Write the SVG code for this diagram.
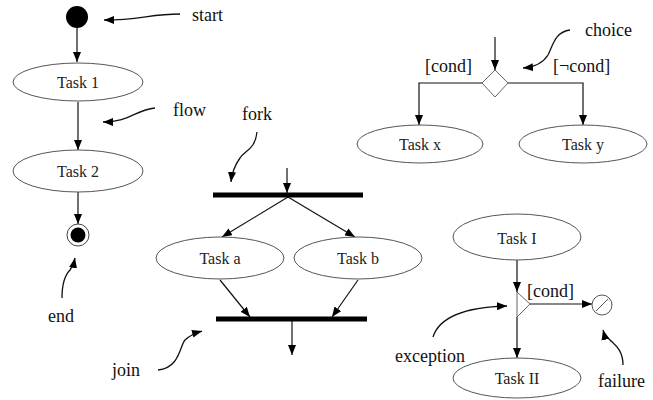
<svg xmlns="http://www.w3.org/2000/svg" width="653" height="400" viewBox="0 0 653 400">
<style>
.node{fill:#fff;stroke:#555;stroke-width:1}
.t{font-family:'Liberation Serif','DejaVu Serif',serif;font-size:16px;fill:#222;text-anchor:middle;dominant-baseline:central}
.lbl{font-family:'Liberation Serif','DejaVu Serif',serif;font-size:18px;fill:#111}
.c{fill:none;stroke:#111;stroke-width:1.2;marker-end:url(#ah)}
.p{fill:none;stroke:#111;stroke-width:1.3;marker-end:url(#ah)}
.bar{stroke:#000;stroke-width:5}
</style>
<defs>
<marker id="ah" markerUnits="userSpaceOnUse" markerWidth="10" markerHeight="8" refX="10" refY="4" orient="auto">
<path d="M0,0 L10,4 L0,8 z" fill="#000"/>
</marker>
</defs>
<rect width="653" height="400" fill="#fff"/>
<g id="connectors">
<path class="c" d="M77,28 L77,62"/>
<path class="c" d="M78,102 L78,150"/>
<path class="c" d="M78,192 L78,224"/>
<path class="c" d="M287,168 L287,193"/>
<path class="c" d="M288,197 L222,237"/>
<path class="c" d="M288,197 L355,237"/>
<path class="c" d="M220,280 L250,317"/>
<path class="c" d="M358,280 L332,317"/>
<path class="c" d="M292,321 L292,355"/>
<path class="c" d="M495,37 L495,70"/>
<path class="c" d="M482,83 L419,83 L419,125"/>
<path class="c" d="M508,83 L583,83 L583,125"/>
<path class="c" d="M517,260 L517,292"/>
<path class="c" d="M517,317 L517,358"/>
<path class="c" d="M530,304 L592,304"/>
</g>
<g id="pointers">
<path class="p" d="M180,14 C150,14 140,20 104,20"/>
<path class="p" d="M155,108 C135,110 130,122 103,122"/>
<path class="p" d="M257,132 C255,150 245,150 240,158 C235,165 232,172 231,182"/>
<path class="p" d="M158,370 C180,368 180,345 185,340 C190,335 195,333 202,331"/>
<path class="p" d="M62,298 C62,285 65,275 70,270 C73,266 74,263 75,258"/>
<path class="p" d="M570,30 C555,32 553,45 548,55 C543,63 535,67 523,68"/>
<path class="p" d="M433,337 C440,315 470,307 507,306"/>
<path class="p" d="M623,365 C623,350 615,345 610,340 C606,336 604,334 603,330"/>
</g>
<g id="start"><circle cx="77" cy="17" r="11" fill="#000"/></g>
<g id="task1"><ellipse class="node" cx="78" cy="82" rx="65" ry="19"/><text class="t" x="78" y="82">Task 1</text></g>
<g id="task2"><ellipse class="node" cx="78" cy="171" rx="65" ry="21"/><text class="t" x="78" y="171">Task 2</text></g>
<g id="end"><circle cx="78" cy="235" r="11" fill="#fff" stroke="#444" stroke-width="1"/><circle cx="78" cy="235" r="7.5" fill="#000"/></g>
<g id="fork"><line class="bar" x1="213" y1="195" x2="363" y2="195"/></g>
<g id="taska"><ellipse class="node" cx="220" cy="258" rx="64" ry="21"/><text class="t" x="220" y="258">Task a</text></g>
<g id="taskb"><ellipse class="node" cx="358" cy="258" rx="64" ry="21"/><text class="t" x="358" y="258">Task b</text></g>
<g id="join"><line class="bar" x1="216" y1="319" x2="367" y2="319"/></g>
<g id="choice"><path d="M495,70 L508,83 L495,97 L482,83 z" fill="#fff" stroke="#666" stroke-width="1"/></g>
<g id="taskx"><ellipse class="node" cx="420" cy="144" rx="63" ry="19"/><text class="t" x="420" y="144">Task x</text></g>
<g id="tasky"><ellipse class="node" cx="583" cy="144" rx="64" ry="19"/><text class="t" x="583" y="144">Task y</text></g>
<g id="taskI"><ellipse class="node" cx="517" cy="237" rx="64" ry="23"/><text class="t" x="517" y="238">Task I</text></g>
<g id="exception"><path d="M517,292 L530,304 L517,317 z" fill="#fff" stroke="#666" stroke-width="1"/></g>
<g id="taskII"><ellipse class="node" cx="517" cy="378" rx="64" ry="20"/><text class="t" x="517" y="378">Task II</text></g>
<g id="failure"><circle cx="602" cy="305" r="10" fill="#fff" stroke="#555" stroke-width="1"/><line x1="596" y1="311" x2="608" y2="299" stroke="#555" stroke-width="1"/></g>
<g id="labels">
<text class="lbl" x="192" y="21">start</text>
<text class="lbl" x="173" y="116">flow</text>
<text class="lbl" x="242" y="120">fork</text>
<text class="lbl" x="48" y="322">end</text>
<text class="lbl" x="112" y="376">join</text>
<text class="lbl" x="585" y="36">choice</text>
<text class="lbl" x="425" y="72">[cond]</text>
<text class="lbl" x="553" y="72">[¬cond]</text>
<text class="lbl" x="527" y="297">[cond]</text>
<text class="lbl" x="395" y="362">exception</text>
<text class="lbl" x="598" y="387">failure</text>
</g>
</svg>
